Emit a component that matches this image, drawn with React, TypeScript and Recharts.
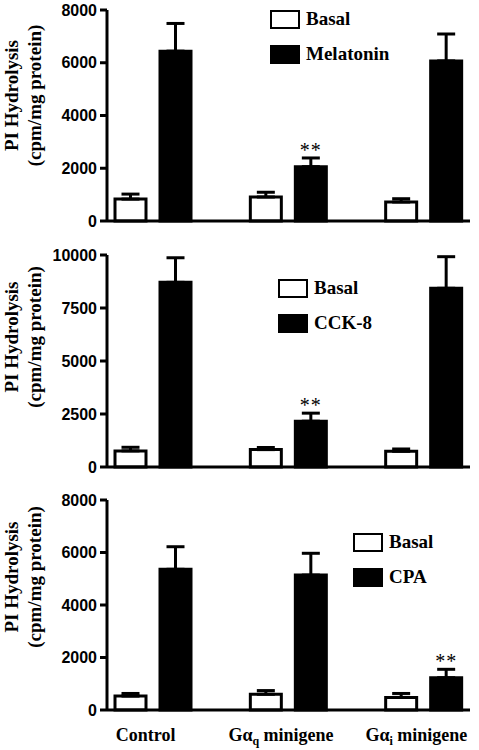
import React from 'react';
import { BarChart, Bar, XAxis, YAxis, ErrorBar, Legend } from 'recharts';

const groups = ['Control', 'Gαq minigene', 'Gαi minigene'];

// panel A: melatonin
const melBasal = [830, 910, 720];
const melBasalErr = [190, 180, 125];
const melatonin = [6440, 2060, 6070];
const melatoninErr = [1050, 330, 1020];
const melSig = [false, true, false];

// panel B: CCK-8
const cckBasal = [760, 820, 740];
const cckBasalErr = [170, 100, 110];
const cck8 = [8710, 2160, 8430];
const cck8Err = [1160, 380, 1490];
const cckSig = [false, true, false];

// panel C: CPA
const cpaBasal = [530, 600, 480];
const cpaBasalErr = [100, 140, 150];
const cpa = [5360, 5140, 1230];
const cpaErr = [860, 830, 320];
const cpaSig = [false, false, true];

const ticks8000 = [0, 2000, 4000, 6000, 8000];
const ticks10000 = [0, 2500, 5000, 7500, 10000];

const serif = '"Liberation Serif", "Times New Roman", serif';
const sans = '"Liberation Sans", Arial, sans-serif';

const buildRows = (basal: number[], basalErr: number[], stim: number[], stimErr: number[], sig: boolean[]) =>
  groups.map((g, i) => ({
    group: g,
    basal: basal[i],
    basalErr: basalErr[i],
    stim: stim[i],
    stimErr: stimErr[i],
    sig: sig[i],
  }));

const GroupTick = (props: any) => {
  const { x, y, payload } = props;
  const m = String(payload.value).match(/^Gα(\S)\s(.*)$/);
  return (
    <text x={x} y={y} dx={-7} dy={31} textAnchor="middle" fontFamily={serif} fontWeight="bold" fontSize={18} fill="#000">
      {m ? (
        <>
          <tspan>Gα</tspan>
          <tspan dy={4} fontSize={12}>{m[1]}</tspan>
          <tspan dy={-4}> {m[2]}</tspan>
        </>
      ) : (
        payload.value
      )}
    </text>
  );
};

const makeYLabel = (shift: number) => (props: any) => {
  const vb = props.viewBox || {};
  const cy = vb.y + vb.height / 2 + shift;
  return (
    <g fontFamily={serif} fontWeight="bold" fontSize={19} fill="#000">
      <text x={11} y={cy} transform={`rotate(-90, 11, ${cy})`} textAnchor="middle" dominantBaseline="central">
        PI Hydrolysis
      </text>
      <text x={34} y={cy} transform={`rotate(-90, 34, ${cy})`} textAnchor="middle" dominantBaseline="central">
        (cpm/mg protein)
      </text>
    </g>
  );
};

const makeStars = (rows: any[]) => (props: any) => {
  const { x, y, width, height, value, index } = props;
  if (!rows[index] || !rows[index].sig) return null;
  const perUnit = value ? height / value : 0;
  const errTop = y - rows[index].stimErr * perUnit;
  return (
    <text x={x + width / 2} y={errTop - 1} textAnchor="middle" fontFamily={serif} fontSize={20} letterSpacing={1} fill="#000">
      **
    </text>
  );
};

const LegendBox = ({ stimName }: { stimName: string }) => {
  const row = (label: string, fill: string) => (
    <div style={{ display: 'flex', alignItems: 'center', height: 20, marginBottom: 15 }}>
      <div style={{ width: 30, height: 19, border: '2px solid #000', boxSizing: 'border-box', background: fill }} />
      <span style={{ marginLeft: 6, fontFamily: serif, fontWeight: 'bold', fontSize: 19, lineHeight: '20px', color: '#000' }}>
        {label}
      </span>
    </div>
  );
  return (
    <div>
      {row('Basal', '#fff')}
      {row(stimName, '#000')}
    </div>
  );
};

interface PanelProps {
  rows: any[];
  stimName: string;
  ticks: number[];
  top: number;
  height: number;
  margin: { top: number; right: number; bottom: number; left: number };
  legendPos: { left: number; top: number };
  labelShift: number;
  showGroups?: boolean;
}

const Panel = ({ rows, stimName, ticks, top, height, margin, legendPos, labelShift, showGroups }: PanelProps) => (
  <div style={{ position: 'absolute', left: 0, top }}>
    <BarChart width={479} height={height} data={rows} margin={margin} barGap={14}>
      <XAxis
        dataKey="group"
        axisLine={{ stroke: '#000', strokeWidth: 3 }}
        tickLine={false}
        tickSize={0}
        tickMargin={0}
        tick={showGroups ? <GroupTick /> : false}
        height={showGroups ? 40 : 1}
        padding={{ left: -22, right: -21 }}
        interval={0}
      />
      <YAxis
        width={107}
        domain={[0, ticks[ticks.length - 1]]}
        ticks={ticks}
        interval={0}
        axisLine={{ stroke: '#000', strokeWidth: 3 }}
        tickLine={{ stroke: '#000', strokeWidth: 3 }}
        tickSize={7}
        tickMargin={3}
        tick={{ fill: '#000', fontFamily: sans, fontWeight: 'bold', fontSize: 16 }}
        label={{ content: makeYLabel(labelShift) }}
      />
      <Legend
        layout="horizontal"
        verticalAlign="middle"
        align="center"
        content={() => <LegendBox stimName={stimName} />}
        wrapperStyle={{ left: legendPos.left, top: legendPos.top, width: 'auto', height: 'auto' }}
      />
      <Bar dataKey="basal" name="Basal" fill="#fff" stroke="#000" strokeWidth={3} barSize={31} isAnimationActive={false}>
        <ErrorBar dataKey={(d: any) => [0, d.basalErr]} width={9} stroke="#000" strokeWidth={3} direction="y" />
      </Bar>
      <Bar
        dataKey="stim"
        name={stimName}
        fill="#000"
        stroke="#000"
        strokeWidth={3}
        barSize={31}
        isAnimationActive={false}
        label={makeStars(rows)}
      >
        <ErrorBar dataKey={(d: any) => [0, d.stimErr]} width={9} stroke="#000" strokeWidth={3} direction="y" />
      </Bar>
    </BarChart>
  </div>
);

const App = () => {
  const melRows = buildRows(melBasal, melBasalErr, melatonin, melatoninErr, melSig);
  const cckRows = buildRows(cckBasal, cckBasalErr, cck8, cck8Err, cckSig);
  const cpaRows = buildRows(cpaBasal, cpaBasalErr, cpa, cpaErr, cpaSig);
  return (
    <div style={{ position: 'absolute', left: 0, top: 0, width: 479, height: 750, background: '#fff' }}>
      <Panel
        rows={melRows}
        stimName="Melatonin"
        ticks={ticks8000}
        top={0}
        height={235}
        margin={{ top: 10, right: 9, bottom: 13, left: 0 }}
        legendPos={{ left: 270, top: 9 }}
        labelShift={-20}
      />
      <Panel
        rows={cckRows}
        stimName="CCK-8"
        ticks={ticks10000}
        top={240}
        height={235}
        margin={{ top: 15, right: 9, bottom: 7, left: 0 }}
        legendPos={{ left: 278, top: 38 }}
        labelShift={-24}
      />
      <Panel
        rows={cpaRows}
        stimName="CPA"
        ticks={ticks8000}
        top={480}
        height={270}
        margin={{ top: 20, right: 9, bottom: 0, left: 0 }}
        legendPos={{ left: 353, top: 52 }}
        labelShift={-28}
        showGroups
      />
    </div>
  );
};

export default App;
